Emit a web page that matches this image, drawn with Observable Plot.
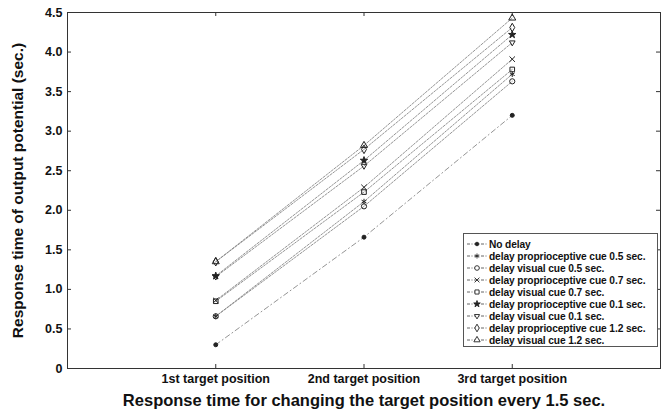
<!DOCTYPE html>
<html>
<head>
<meta charset="utf-8">
<script src="https://cdn.jsdelivr.net/npm/d3@7"></script>
<script src="https://cdn.jsdelivr.net/npm/@observablehq/plot@0.6"></script>
<style>
  html, body { margin: 0; padding: 0; background: #fff; }
  #wrap { position: relative; width: 661px; height: 414px; overflow: hidden; font-family: "Liberation Sans", Arial, sans-serif; }
  #legend { position: absolute; left: 463px; top: 233px; width: 195px; height: 114px; border: 1px solid #555; background: #fff; padding-top: 4px; box-sizing: border-box; }
  .row { display: flex; align-items: center; height: 12px; font-size: 10.2px; font-weight: bold; color: #111; white-space: nowrap; letter-spacing: -0.1px; }
  .row svg { flex: none; margin-left: 2px; margin-right: 1px; }
</style>
</head>
<body>
<div id="wrap"><div id="legend"></div></div>
<script>
// Target positions on the x axis
const positions = [1, 2, 3];
const positionLabels = ["1st target position", "2nd target position", "3rd target position"];

// Series names (legend order)
const seriesNames = [
  "No delay",
  "delay proprioceptive cue 0.5 sec.",
  "delay visual cue 0.5 sec.",
  "delay proprioceptive cue 0.7 sec.",
  "delay visual cue 0.7 sec.",
  "delay proprioceptive cue 0.1 sec.",
  "delay visual cue 0.1 sec.",
  "delay proprioceptive cue 1.2 sec.",
  "delay visual cue 1.2 sec."
];

// Response times (sec.) at the 1st, 2nd and 3rd target positions
const noDelay      = [0.30, 1.66, 3.20];
const proprio05    = [0.66, 2.11, 3.72];
const visual05     = [0.66, 2.05, 3.63];
const proprio07    = [0.86, 2.29, 3.91];
const visual07     = [0.85, 2.23, 3.78];
const proprio01    = [1.17, 2.63, 4.22];
const visual01     = [1.16, 2.56, 4.12];
const proprio12    = [1.35, 2.77, 4.31];
const visual12     = [1.35, 2.82, 4.43];

const yTicks = [0, 0.5, 1, 1.5, 2, 2.5, 3, 3.5, 4, 4.5];
const xLabel = "Response time for changing the target position every 1.5 sec.";
const yLabel = "Response time of output potential (sec.)";

// Downward-pointing triangle
const triangleDown = {
  draw(context, size) {
    const s = Math.sqrt(size / 0.65);
    const h = s * Math.sqrt(3) / 2;
    context.moveTo(0, h * 2 / 3);
    context.lineTo(s / 2, -h / 3);
    context.lineTo(-s / 2, -h / 3);
    context.closePath();
  }
};

const values = [noDelay, proprio05, visual05, proprio07, visual07, proprio01, visual01, proprio12, visual12];
const symbols = [d3.symbolCircle, d3.symbolAsterisk, d3.symbolCircle, d3.symbolTimes, d3.symbolSquare,
                 d3.symbolStar, triangleDown, d3.symbolDiamond, d3.symbolTriangle];
const filled = [true, false, false, false, false, true, false, false, false];
const radii = [2, 2.6, 2.6, 2.6, 2.6, 2.3, 2.6, 2.6, 2.6];
const dashes = ["5,3,1,3", "2,1.5", "2,1.5", "2,1.5", "2,1.5", "2,1.5", "2,1.5", "2,1.5", "2,1.5"];

const data = [];
seriesNames.forEach((name, i) => {
  positions.forEach((p, j) => data.push({series: name, idx: i, x: p, y: values[i][j]}));
});

const W = 661, H = 414, mL = 67, mR = 1, mT = 12, mB = 46;
const plotW = W - mL - mR, plotH = H - mT - mB;

const marks = [
  Plot.frame({stroke: "#333", strokeWidth: 1}),
  // inward ticks on all four sides
  Plot.tickX(positions, {x: d => d, stroke: "#333", insetTop: plotH - 4}),
  Plot.tickX(positions, {x: d => d, stroke: "#333", insetBottom: plotH - 4}),
  Plot.tickY(yTicks, {y: d => d, stroke: "#333", insetRight: plotW - 4}),
  Plot.tickY(yTicks, {y: d => d, stroke: "#333", insetLeft: plotW - 4})
];

seriesNames.forEach((name, i) => {
  const pts = data.filter(d => d.idx === i);
  marks.push(Plot.line(pts, {x: "x", y: "y", stroke: "#888", strokeWidth: 0.9, strokeDasharray: dashes[i]}));
});
seriesNames.forEach((name, i) => {
  const pts = data.filter(d => d.idx === i);
  marks.push(Plot.dot(pts, {
    x: "x", y: "y", r: radii[i], symbol: symbols[i],
    stroke: "#222", strokeWidth: 1, fill: filled[i] ? "#222" : "none"
  }));
});

marks.push(
  Plot.text([xLabel], {text: d => d, frameAnchor: "bottom", dy: 37, fontSize: 16.5, fontWeight: "bold", fill: "#111"}),
  Plot.text([yLabel], {text: d => d, frameAnchor: "left", dx: -49, rotate: -90, textAnchor: "middle", fontSize: 15.5, fontWeight: "bold", fill: "#111"})
);

const chart = Plot.plot({
  width: W, height: H,
  marginLeft: mL, marginRight: mR, marginTop: mT, marginBottom: mB,
  style: {fontFamily: "'Liberation Sans', Arial, sans-serif", fontSize: "12.5px", fontWeight: "bold", color: "#111", background: "#fff", overflow: "visible"},
  x: {domain: [0, 4], ticks: positions, tickFormat: d => positionLabels[positions.indexOf(d)], tickSize: 0, tickPadding: 6, label: null},
  y: {domain: [0, 4.5], ticks: yTicks, tickFormat: d => d === 0 ? "0" : d.toFixed(1), tickSize: 0, tickPadding: 5, label: null},
  marks
});

const wrap = document.getElementById("wrap");
wrap.insertBefore(chart, wrap.firstChild);

// Legend rows: short dash-dot segment with the series marker, then its name
const legend = document.getElementById("legend");
seriesNames.forEach((name, i) => {
  const row = document.createElement("div");
  row.className = "row";
  const svg = d3.create("svg").attr("width", 22).attr("height", 10);
  svg.append("line").attr("x1", 1).attr("x2", 21).attr("y1", 5).attr("y2", 5)
    .attr("stroke", "#555").attr("stroke-width", 0.9).attr("stroke-dasharray", "3,1.5,1,1.5");
  svg.append("path").attr("transform", "translate(11,5)")
    .attr("d", d3.symbol(symbols[i], Math.PI * radii[i] * radii[i] * 0.8)())
    .attr("stroke", "#222").attr("stroke-width", 0.9)
    .attr("fill", filled[i] ? "#222" : "#fff");
  row.appendChild(svg.node());
  const span = document.createElement("span");
  span.textContent = name;
  row.appendChild(span);
  legend.appendChild(row);
});
</script>
</body>
</html>
